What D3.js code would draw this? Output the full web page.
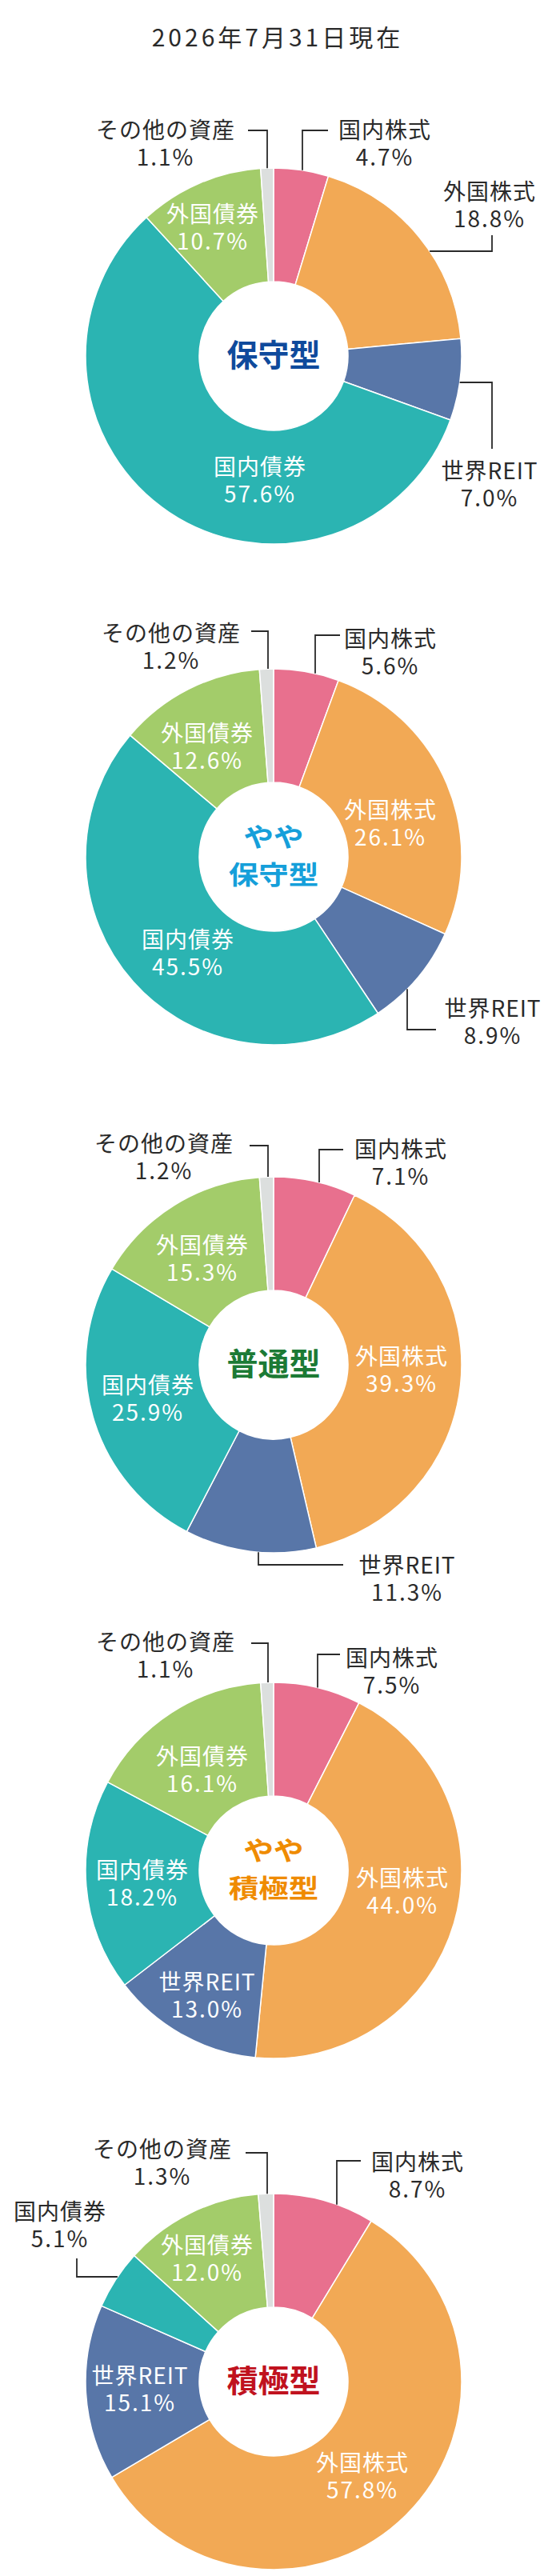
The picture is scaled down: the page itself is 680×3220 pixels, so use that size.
<!DOCTYPE html>
<html lang="ja">
<head>
<meta charset="utf-8">
<script src="https://cdn.jsdelivr.net/npm/d3@7"></script>
<style>
  html, body { margin: 0; padding: 0; background: #fff; }
  svg { display: block; }
  text { font-family: "Noto Sans CJK JP", "Noto Sans", sans-serif; }
</style>
</head>
<body>
<script>
// ---------- data ----------
const titleText = "2026年7月31日現在";
const categories = ["国内株式", "外国株式", "世界REIT", "国内債券", "外国債券", "その他の資産"];
const colors = ["#e8708e", "#f2a955", "#5876a8", "#2bb4b2", "#a3cc6a", "#dcdfde"];

const portfolioNames = [["保守型"], ["やや", "保守型"], ["普通型"], ["やや", "積極型"], ["積極型"]];
const nameColors = ["#0f4a9c", "#159fda", "#1c7a35", "#ef8b00", "#c0121e"];

const conservative         = [4.7, 18.8, 7.0, 57.6, 10.7, 1.1];
const slightlyConservative = [5.6, 26.1, 8.9, 45.5, 12.6, 1.2];
const balanced             = [7.1, 39.3, 11.3, 25.9, 15.3, 1.2];
const slightlyAggressive   = [7.5, 44.0, 13.0, 18.2, 16.1, 1.1];
const aggressive           = [8.7, 57.8, 15.1, 5.1, 12.0, 1.3];
const portfolios = [conservative, slightlyConservative, balanced, slightlyAggressive, aggressive];

// ---------- layout (positions relative to each donut centre) ----------
const W = 680, H = 3220, CX = 342, R = 235, r = 93, LINE = 34;
const centresY = [445, 1071, 1706, 2338, 2977];
// per chart, per category: label anchor (x, first baseline y), outside flag, leader spec
const labelLayouts = [
  [ {out:1, x:139, y:-272, lead:["v", 36, -282, 68]},
    {out:1, x:270, y:-195, lead:["h", -131, 273, -151]},
    {out:1, x:270, y:154,  lead:["h", 33, 273, 116]},
    {x:-17, y:149},
    {x:-76, y:-167},
    {out:1, x:-135, y:-272, lead:["v", -8, -282, -32]} ],
  [ {out:1, x:146, y:-262, lead:["v", 52, -277, 83]},
    {x:146, y:-48},
    {out:1, x:274, y:200,  lead:["v", 167, 216, 203]},
    {x:-107, y:114},
    {x:-83, y:-144},
    {out:1, x:-128, y:-269, lead:["v", -7, -282, -28]} ],
  [ {out:1, x:159, y:-259, lead:["v", 57, -269, 87]},
    {x:160, y:0},
    {out:1, x:167, y:261,  lead:["v", -19, 250, 87]},
    {x:-157, y:36},
    {x:-89, y:-139},
    {out:1, x:-137, y:-266, lead:["v", -7, -274, -30]} ],
  [ {out:1, x:148, y:-255, lead:["v", 55, -270, 83]},
    {x:161, y:20},
    {x:-83, y:150},
    {x:-164, y:10},
    {x:-89, y:-132},
    {out:1, x:-135, y:-275, lead:["v", -7, -284, -28]} ],
  [ {out:1, x:180, y:-264, lead:["v", 79, -276, 109]},
    {x:111, y:112},
    {x:-167, y:3},
    {out:1, x:-267, y:-202, lead:["h", -131, -246, -154]},
    {x:-83, y:-160},
    {out:1, x:-139, y:-280, lead:["v", -8, -286, -35]} ]
];

// ---------- drawing ----------
const svg = d3.select("body").append("svg")
  .attr("width", W).attr("height", H).attr("viewBox", `0 0 ${W} ${H}`);

svg.append("text")
  .attr("x", 347).attr("y", 58)
  .attr("text-anchor", "middle")
  .attr("font-size", 30)
  .attr("letter-spacing", 4)
  .attr("fill", "#2a2a2a")
  .text(titleText);

const pie = d3.pie().sort(null).value(d => d);
const arc = d3.arc().innerRadius(r).outerRadius(R);

portfolios.forEach((vals, i) => {
  const g = svg.append("g").attr("transform", `translate(${CX},${centresY[i]})`);
  const arcs = pie(vals);

  g.selectAll("path.slice").data(arcs).join("path")
    .attr("class", "slice")
    .attr("d", arc)
    .attr("fill", (d, j) => colors[j])
    .attr("stroke", "#fff")
    .attr("stroke-width", 1.5)
    .attr("stroke-linejoin", "round");

  const lay = labelLayouts[i];

  // leader lines
  lay.forEach((L) => {
    if (!L.lead) return;
    const [type, a, b, c] = L.lead;
    let pts;
    if (type === "v") {
      const y0 = Math.sign(b) * Math.sqrt(R * R - a * a);
      pts = [[a, y0], [a, b], [c, b]];
    } else {
      const x0 = Math.sign(b) * Math.sqrt(R * R - a * a);
      pts = [[x0, a], [b, a], [b, c]];
    }
    g.append("path")
      .attr("d", d3.line()(pts))
      .attr("fill", "none")
      .attr("stroke", "#2a2a2a")
      .attr("stroke-width", 1.8);
  });

  // labels
  arcs.forEach((a, j) => {
    const L = lay[j];
    const t = g.append("text")
      .attr("text-anchor", "middle")
      .attr("font-size", 28)
      .attr("letter-spacing", 1)
      .attr("fill", L.out ? "#2a2a2a" : "#ffffff");
    t.append("tspan").attr("x", L.x).attr("y", L.y).text(categories[j]);
    t.append("tspan").attr("x", L.x).attr("y", L.y + LINE)
      .attr("letter-spacing", 2)
      .text(d3.format(".1f")(a.data) + "%");
  });

  // centre name
  const lines = portfolioNames[i];
  const two = lines.length > 1;
  const baseY = two ? [-13, 34] : [13];
  lines.forEach((s, k) => {
    const t = g.append("text")
      .attr("text-anchor", "middle")
      .attr("font-size", two ? 32 : 39)
      .attr("font-weight", 700)
      .attr("fill", nameColors[i])
      .attr("x", 0).attr("y", baseY[k])
      .text(s);
    if (two) t.attr("textLength", s.length * 37.5).attr("lengthAdjust", "spacingAndGlyphs");
  });
});
</script>
</body>
</html>
